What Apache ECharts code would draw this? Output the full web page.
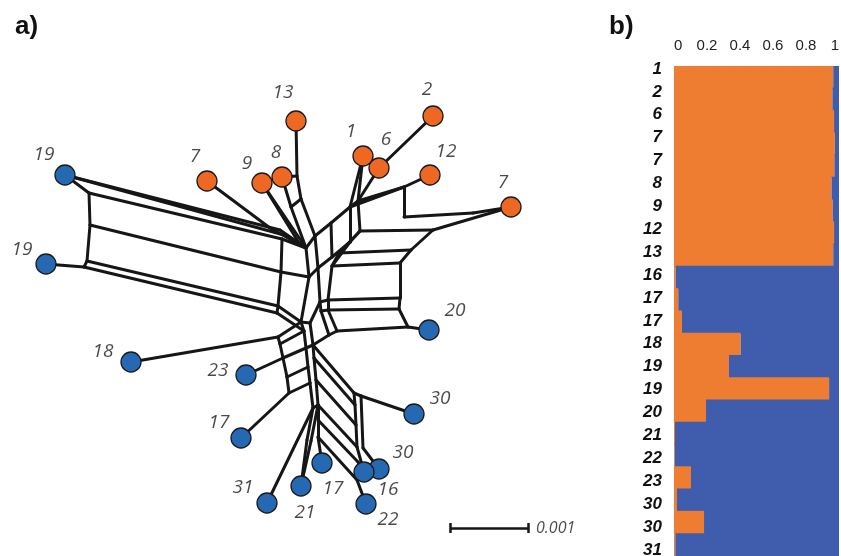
<!DOCTYPE html>
<html><head><meta charset="utf-8">
<script src="https://cdn.jsdelivr.net/npm/echarts@6/dist/echarts.min.js"></script>
<style>html,body{margin:0;padding:0;background:#fff}#c{width:841px;height:556px}</style>
</head><body><div id="c"></div>
<script>
// ---------- panel b: admixture proportions ----------
const sampleLabels = ['1','2','6','7','7','8','9','12','13','16','17','17','18','19','19','20','21','22','23','30','30','31'];
const clusterOrange = [0.965,0.96,0.97,0.975,0.972,0.955,0.962,0.97,0.965,0.01,0.026,0.048,0.404,0.333,0.94,0.194,0.006,0.004,0.103,0.018,0.182,0.008];
const clusterBlue   = [0.035,0.04,0.03,0.025,0.028,0.045,0.038,0.03,0.035,0.99,0.974,0.952,0.596,0.667,0.06,0.806,0.994,0.996,0.897,0.982,0.818,0.992];

// ---------- panel a: neighbor-net splits graph ----------
const leafIds   = ['n13','n2','n1','n6','n12','n7r','n7l','n9','n8','n19t','n19b','n20','n18','n23','n30r','n17l','n30l','n17b','n16','n31','n21','n22'];
const leafNames = ['13','2','1','6','12','7','7','9','8','19','19','20','18','23','30','17','30','17','16','31','21','22'];
const leafX = [296,433,363,379,430,511,207,262,282,65,46,429,131,246,414,241,379,322,364,267,301,366];
const leafY = [121,116,156,168,175,207,181,183,177,175,264,330,362,375,414,438,469,463,472,503,486,504];
const leafCluster = [0,0,0,0,0,0,0,0,0,1,1,1,1,1,1,1,1,1,1,1,1,1];
const leafLabelX = [283,427,351,386,446,503,195,247,276,44,22,455,103,218,440,219,403,333,388,243,305,388];
const leafLabelY = [93,90,132,140,152,183,157,164,153,155,250,311,352,371,399,423,453,489,490,488,513,520];

const innerNodes = [
 ['a1',89,193],['a2',90,225],['a3',87,261],['a4',84,267],
 ['b1',282,239],['b2',281,272],['b3',278,306],['b4',277,313],
 ['q1',280,230],['q2',284,235],['k7',270,228],['c0',306,248],['t9',299,243],
 ['s13a',297,176],['s13b',301,199],['s8a',291,207],
 ['u1',315,236],['u2',331,223],['u3',350,207],['u4',358,201],
 ['l0',309,277],['l1',318,268],['l2',332,257],['l3',350,242],['l4',360,231],
 ['r3',404,187],['r4',404,217],['r5',473,213],['r6',433,230],
 ['p1',339,253],['p2',332,266],['p3',328,300],['p4',328,310],['p5',337,331],
 ['p3b',320,302],['p4b',321,311],['p5b',329,335],
 ['r10',411,250],['r11',400,263],['r12',400,298],['r13',399,309],['r14',408,327],
 ['m0',301,322],['m1',304,331],
 ['k1',278,337],['k2',280,344],['k3',283,358],['k4',287,377],['k5',289,393],
 ['j3',306,348],['j4',308,367],['j5',310,383],
 ['i1',310,323],['i2',313,345],['e1',314,358],['i3',316,380],['h1',318,405],['h0',313,408],
 ['g1',354,393],['g4',361,396],['g2',355,405],['g7',356,425],['g5',357,447],['g6',363,448],
 ['f1',318,437],['f2',357,480],['f3',318,420],['f4',358,462],
 ['w1',307,440],['w2',311,441]
];
const splitEdges = [
 ['n19t','a1'],['n19t','q1'],['n19t','q2'],['q1','c0'],['q2','c0'],['a1','b1'],['b1','c0'],
 ['a1','a2'],['a2','a3'],['a3','a4'],['a4','n19b'],
 ['a2','b2'],['a3','b3'],['a4','b4'],['b1','b2'],['b2','b3'],['b3','b4'],
 ['b2','l0'],['b3','m0'],['b4','m1'],
 ['n7l','k7'],['k7','c0'],['n9','t9'],['t9','c0'],['n9','c0'],
 ['n8','s8a'],['s8a','c0'],['n8','s13a'],['n13','s13a'],['s13a','s13b'],['s8a','s13b'],['s13b','u1'],
 ['c0','u1'],['u1','u2'],['u2','u3'],['u3','u4'],
 ['l0','l1'],['l1','l2'],['l2','l3'],['l3','l4'],
 ['c0','l0'],['u1','l1'],['u2','l2'],['u3','l3'],['u4','l4'],
 ['u4','n1'],['u3','n1'],['u4','n6'],['n6','n2'],
 ['u4','r3'],['u3','r3'],['r3','n12'],['r3','r4'],['r4','r5'],['r5','n7r'],['l4','r6'],['r6','n7r'],
 ['r6','r10'],['r10','r11'],['r11','r12'],['r12','r13'],['r13','r14'],['r14','n20'],
 ['p1','r10'],['p2','r11'],['p3','r12'],['p4','r13'],['p5','r14'],
 ['p1','p2'],['p2','p3'],['p3','p4'],['p4','p5'],['l4','p1'],['l3','p2'],
 ['l1','p3b'],['p3b','p4b'],['p4b','p5b'],['p3b','p3'],['p4b','p4'],['p5b','p5'],['p5b','i2'],
 ['l0','m0'],['m0','m1'],
 ['n18','k1'],['n23','k3'],['n17l','k5'],
 ['k1','k2'],['k2','k3'],['k3','k4'],['k4','k5'],
 ['k1','m0'],['k2','m1'],['k3','j3'],['k4','j4'],['k5','j5'],
 ['m1','j3'],['j3','j4'],['j4','j5'],['j5','h0'],
 ['p3b','i1'],['m0','i1'],['i1','i2'],['i2','e1'],['e1','i3'],['i3','h1'],['j3','i2'],['h0','h1'],
 ['i2','g1'],['e1','g2'],['i3','g7'],['g1','g4'],['g4','n30r'],['g1','g2'],['g2','g7'],['g7','g5'],['g4','g6'],['g5','n16'],['g6','n30l'],
 ['h0','n31'],['h0','w1'],['w1','n21'],['h1','w2'],['w2','n21'],
 ['h1','f3'],['f3','f1'],['f1','n17b'],['f3','f4'],['f4','n16'],['f1','f2'],['f2','n22'],['h1','g5']
];
const scaleBarLength = 78;   // plot units representing 0.001 substitutions/site
const scaleBarText = '0.001';
const scaleBarOrigin = [450, 528];

// ---------- build ----------
const pos = {};
leafIds.forEach((id,i)=>{ pos[id] = [leafX[i], leafY[i]]; });
innerNodes.forEach(n=>{ pos[n[0]] = [n[1], n[2]]; });
const edgeData = splitEdges.map(e=>({coords:[pos[e[0]], pos[e[1]]]}));
const nodeColors = ['#EE6823', '#2569B2'];
const nodeData = leafIds.map((id,i)=>({value:[leafX[i],leafY[i]], itemStyle:{color:nodeColors[leafCluster[i]]}}));
const labelData = leafNames.map((t,i)=>[leafLabelX[i], leafLabelY[i], t]);
const sb = scaleBarOrigin, L = scaleBarLength;
const scaleData = [
  {coords:[[sb[0],sb[1]],[sb[0]+L,sb[1]]]},
  {coords:[[sb[0],sb[1]-5],[sb[0],sb[1]+5]]},
  {coords:[[sb[0]+L,sb[1]-5],[sb[0]+L,sb[1]+5]]}
];
const orangeCol = '#EE7D32', blueCol = '#3F5DAC';
const qData = sampleLabels.map((s,i)=>[i, clusterOrange[i], clusterBlue[i]]);

function renderQ(params, api){
  const i = api.value(0), o = api.value(1), b = api.value(2);
  const p0 = api.coord([0, i]);
  const p1 = api.coord([o, i]);
  const p2 = api.coord([o + b, i]);
  const h = api.size([0, 1])[1];
  const y = p0[1] - h/2 - 0.6, hh = h + 1.2;
  return {type:'group', children:[
    {type:'rect', shape:{x:p0[0], y:y, width:p1[0]-p0[0], height:hh}, style:{fill:orangeCol}},
    {type:'rect', shape:{x:p1[0], y:y, width:p2[0]-p1[0], height:hh}, style:{fill:blueCol}}
  ]};
}

const chart = echarts.init(document.getElementById('c'));
chart.setOption({
  animation:false,
  backgroundColor:'#fff',
  title:[
    {text:'a)', left:10, top:9, textStyle:{fontSize:26, fontWeight:'bold', fontFamily:'Liberation Sans, Arial', color:'#111'}},
    {text:'b)', left:604, top:9, textStyle:{fontSize:26, fontWeight:'bold', fontFamily:'Liberation Sans, Arial', color:'#111'}}
  ],
  grid:[
    {left:0, top:0, width:600, height:556, outerBoundsMode:'none', containLabel:false},
    {left:674, right:2, top:66, bottom:0, outerBoundsMode:'none', containLabel:false},
    {left:674, right:2, top:57.5, height:503.8, outerBoundsMode:'none', containLabel:false}
  ],
  xAxis:[
    {gridIndex:0, type:'value', min:0, max:600, show:false},
    {gridIndex:1, type:'value', min:0, max:1, interval:0.2, position:'top',
     axisLine:{show:false}, axisTick:{show:false}, splitLine:{show:false},
     axisLabel:{margin:13, fontSize:15, fontFamily:'Liberation Sans, Arial', color:'#222',
                alignMinLabel:'left', alignMaxLabel:'right'}},
    {gridIndex:2, type:'value', min:0, max:1, show:false}
  ],
  yAxis:[
    {gridIndex:0, type:'value', min:0, max:556, inverse:true, show:false},
    {gridIndex:1, type:'category', data:sampleLabels, inverse:true, show:false},
    {gridIndex:2, type:'category', data:sampleLabels, inverse:true,
     axisLine:{show:false}, axisTick:{show:false},
     axisLabel:{margin:12, fontSize:17, fontWeight:'bold', fontStyle:'italic', fontFamily:'Liberation Sans, Arial', color:'#111'}}
  ],
  series:[
    {type:'lines', coordinateSystem:'cartesian2d', xAxisIndex:0, yAxisIndex:0, z:2,
     lineStyle:{color:'#161616', width:3, opacity:1, cap:'round', join:'round'}, data:edgeData},
    {type:'scatter', xAxisIndex:0, yAxisIndex:0, z:4, symbolSize:20,
     itemStyle:{borderColor:'#1a1a1a', borderWidth:1.3, opacity:1}, data:nodeData},
    {type:'scatter', xAxisIndex:0, yAxisIndex:0, z:5, symbolSize:0, data:labelData,
     label:{show:true, position:'inside', formatter:p=>p.value[2], fontSize:19, fontStyle:'italic',
            fontFamily:'Open Sans', color:'#1c1c1c'}},
    {type:'lines', coordinateSystem:'cartesian2d', xAxisIndex:0, yAxisIndex:0, z:2,
     lineStyle:{color:'#161616', width:2.5, opacity:1}, data:scaleData},
    {type:'scatter', xAxisIndex:0, yAxisIndex:0, symbolSize:0, data:[[sb[0]+L+8, sb[1], scaleBarText]],
     label:{show:true, position:'right', distance:0, formatter:p=>p.value[2], fontSize:16, fontStyle:'italic',
            fontFamily:'Open Sans', color:'#1c1c1c'}},
    {type:'custom', xAxisIndex:1, yAxisIndex:1, data:qData, encode:{x:[1,2], y:0},
     renderItem:renderQ, clip:true}
  ]
});
</script></body></html>
